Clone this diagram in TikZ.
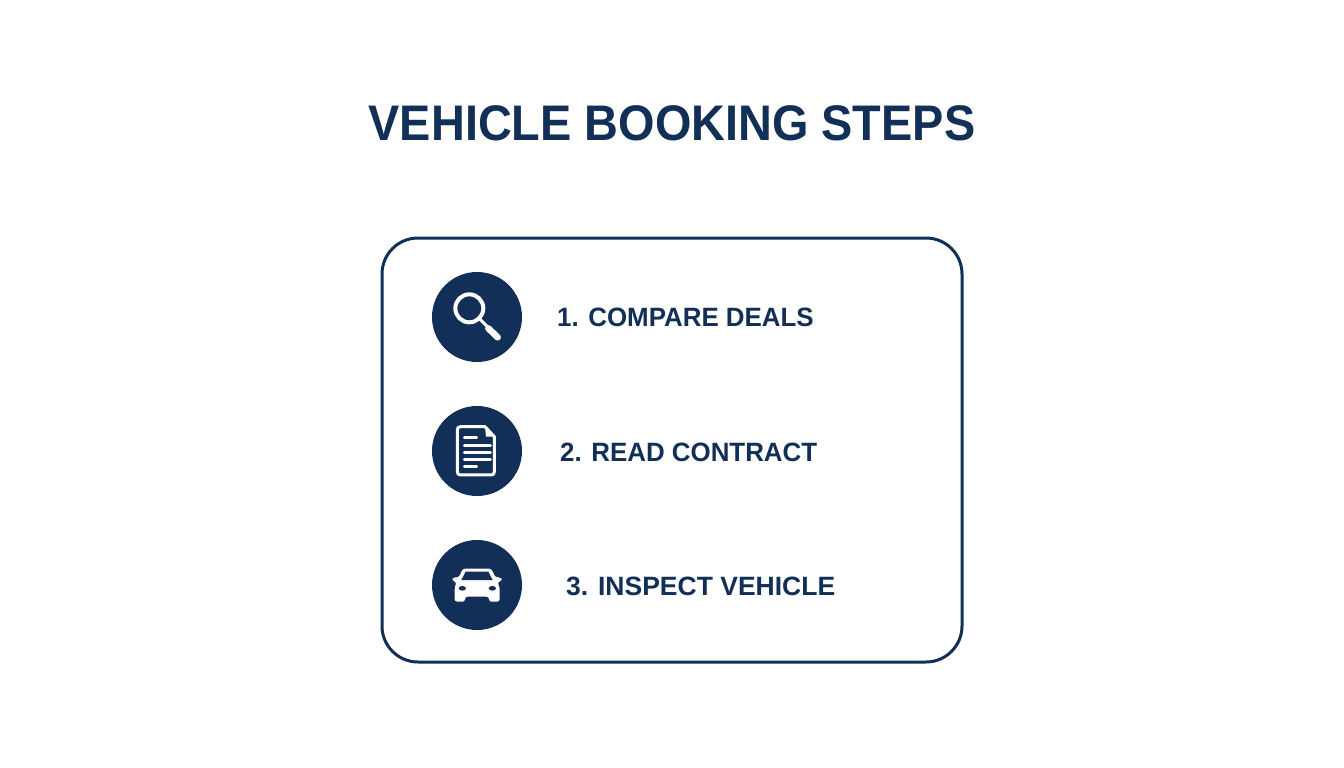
\documentclass[tikz,border=0pt]{standalone}
\usepackage{fontspec}
\setmainfont{Liberation Sans}
\definecolor{navy}{HTML}{122F57}
\tikzset{
  iconcircle/.style={circle,fill=navy,draw=none,minimum size=90pt,inner sep=0pt},
  steplabel/.style={text=navy,font=\fontsize{26.5}{30}\selectfont\bfseries,anchor=west,inner sep=0pt},
  whiteline/.style={draw=white,line width=#1,line cap=round,line join=round},
  icon/.style={shift={(#1)},x=0.3333pt,y=-0.3333pt}
}
\begin{document}
\begin{tikzpicture}[x=1pt,y=-1pt]
\useasboundingbox (0,0) rectangle (1344,768);
\fill[white] (0,0) rectangle (1344,768);
\node[text=navy,font=\fontsize{50}{56}\selectfont\bfseries,inner sep=0pt] (title) at (672,123.5) {\scalebox{.937}[1]{VEHICLE BOOKING STEPS}};
\draw[navy,line width=3pt,rounded corners=36pt] (382,238) rectangle (962,662);
\node[iconcircle] (c1) at (477,317) {};
\node[iconcircle] (c2) at (477,451) {};
\node[iconcircle] (c3) at (477,585) {};
\node[steplabel] (t1) at (557,317) {\scalebox{.977}[1]{1. COMPARE DEALS}};
\node[steplabel] (t2) at (560,452) {\scalebox{.977}[1]{2. READ CONTRACT}};
\node[steplabel] (t3) at (566,586) {3. INSPECT VEHICLE};
% magnifier
\begin{scope}[icon={420,260}]
  \draw[whiteline=4pt] (148,145) circle (42);
  \draw[whiteline=3pt] (180,178) -- (205,203);
  \draw[whiteline=6.5pt] (205,205) -- (233,232);
\end{scope}
% document
\begin{scope}[icon={420,395}]
  \draw[whiteline=3pt] (195,95) -- (122,95) .. controls (115,95) and (112,98) .. (112,105)
    -- (112,230) .. controls (112,237) and (115,240) .. (122,240)
    -- (213,240) .. controls (220,240) and (223,237) .. (223,230) -- (223,125) -- cycle;
  \fill[white] (195,95) -- (223,125) -- (198,125) -- cycle;
  \draw[whiteline=3pt] (133,128) -- (170,128);
  \draw[whiteline=3pt] (133,152) -- (211,152);
  \draw[whiteline=3pt] (133,173) -- (211,173);
  \draw[whiteline=3pt] (133,194) -- (211,194);
  \draw[whiteline=3pt] (133,215) -- (170,215);
\end{scope}
% car
\begin{scope}[icon={420,530}]
  \fill[white,rounded corners=2.5pt] (99,142) -- (117,142) -- (128,116) -- (214,116) -- (226,142) -- (243,142)
     -- (247,152) -- (232,156) -- (239,172) -- (239,215) -- (207,215) -- (207,200) -- (135,200) -- (135,215) -- (104,215) -- (104,172) -- (110,156) -- (96,152) -- cycle;
  \fill[navy] (124,150) -- (137,125) -- (205,125) -- (218,150) -- cycle;
  \fill[navy] (127,175) ellipse (11 and 7);
  \fill[navy] (217,175) ellipse (11 and 7);
\end{scope}
\end{tikzpicture}
\end{document}
